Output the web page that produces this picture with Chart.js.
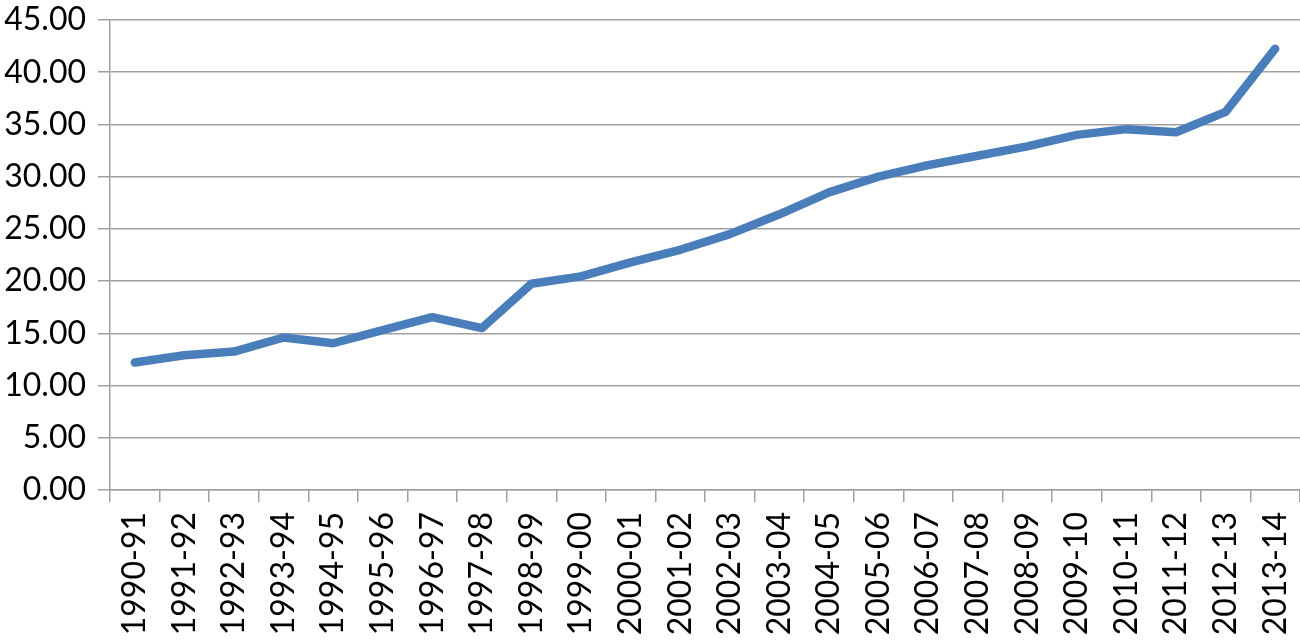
<!DOCTYPE html>
<html>
<head>
<meta charset="utf-8">
<script src="https://cdn.jsdelivr.net/npm/chart.js@4"></script>
<style>
  html, body { margin: 0; padding: 0; background: #ffffff; }
  #chart { display: block; }
</style>
</head>
<body>
<canvas id="chart" width="1300" height="642"></canvas>
<script>
const years = ['1990-91', '1991-92', '1992-93', '1993-94', '1994-95', '1995-96', '1996-97', '1997-98',
  '1998-99', '1999-00', '2000-01', '2001-02', '2002-03', '2003-04', '2004-05', '2005-06', '2006-07',
  '2007-08', '2008-09', '2009-10', '2010-11', '2011-12', '2012-13', '2013-14'];
const values = [12.2, 12.9, 13.25, 14.6, 14.05, 15.3, 16.55, 15.5, 19.75, 20.45, 21.8, 23.0, 24.5,
  26.4, 28.5, 30.0, 31.1, 32.0, 32.9, 34.0, 34.55, 34.25, 36.2, 42.25];
const yTicks = [0, 5, 10, 15, 20, 25, 30, 35, 40, 45];

const gridGrey = '#a0a0a0';
const tickFont = { family: 'Lato', size: 32 };

const ctx = document.getElementById('chart').getContext('2d');

new Chart(ctx, {
  type: 'line',
  data: {
    labels: years,
    datasets: [{
      data: values,
      borderColor: '#4a7ebb',
      borderWidth: 8.5,
      borderCapStyle: 'round',
      borderJoinStyle: 'round',
      pointRadius: 0,
      tension: 0,
      fill: false,
    }]
  },
  options: {
    responsive: false,
    animation: false,
    layout: {
      padding: { top: 20, right: -14, left: 0, bottom: 0 }
    },
    scales: {
      x: {
        offset: true,
        afterFit: (scale) => { scale.height = 152; scale.paddingRight = 0; },
        border: { display: true, color: gridGrey, width: 1.5 },
        grid: {
          offset: true,
          drawOnChartArea: false,
          drawTicks: true,
          tickLength: 12,
          color: gridGrey,
          lineWidth: 1.5,
        },
        ticks: {
          color: '#000000',
          font: tickFont,
          minRotation: 90,
          maxRotation: 90,
          autoSkip: false,
          padding: 10,
        },
      },
      y: {
        min: 0,
        max: 45,
        afterFit: (scale) => { scale.width = 110; scale.paddingTop = 0; scale.paddingBottom = 0; },
        afterBuildTicks: (scale) => { scale.ticks = yTicks.map(v => ({ value: v })); },
        border: { display: true, color: gridGrey, width: 1.5 },
        grid: {
          drawTicks: true,
          tickLength: 12,
          color: gridGrey,
          lineWidth: 1.5,
        },
        ticks: {
          color: '#000000',
          font: tickFont,
          padding: 12,
          callback: (v) => Number(v).toFixed(2),
        },
      },
    },
    plugins: {
      legend: { display: false },
      tooltip: { enabled: false },
    }
  }
});
</script>
</body>
</html>
